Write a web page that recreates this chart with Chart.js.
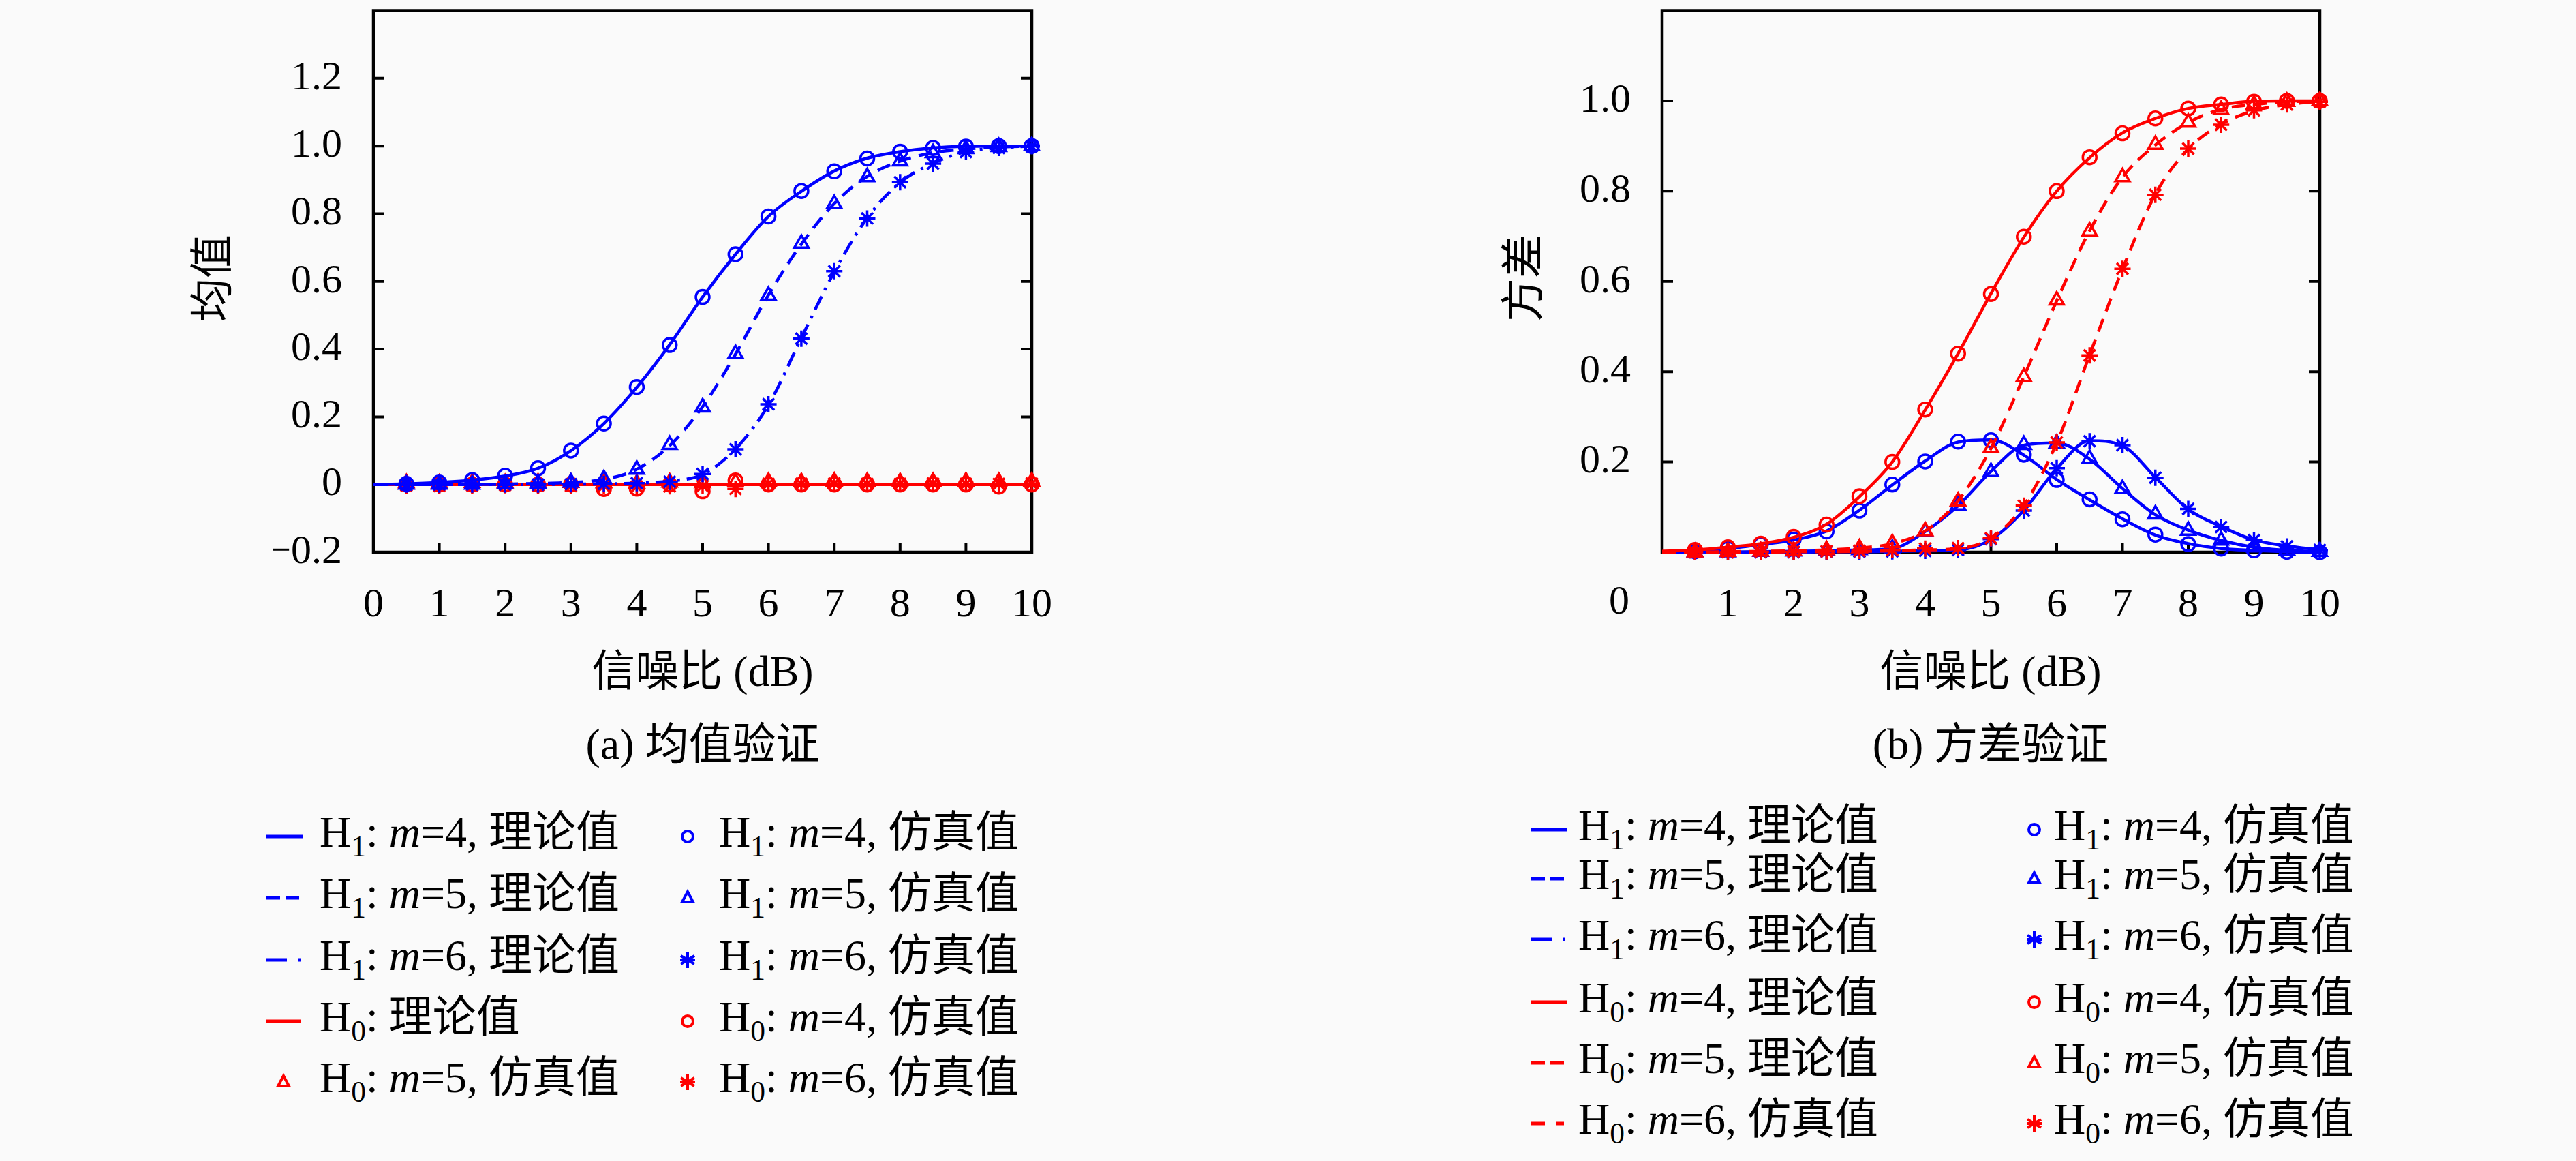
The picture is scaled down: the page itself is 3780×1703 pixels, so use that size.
<!DOCTYPE html>
<html>
<head>
<meta charset="utf-8">
<script src="https://cdn.jsdelivr.net/npm/chart.js@4.4.1/dist/chart.umd.min.js"></script>
<style>
  body { margin: 0; width: 3780px; height: 1703px; background: #fafafa; position: relative; overflow: hidden;
         font-family: "Liberation Serif", "Noto Sans CJK SC", serif; color: #000; }
  canvas { position: absolute; }
  .t { position: absolute; font-size: 64px; line-height: 64px; white-space: nowrap; }
  .c { transform: translateX(-50%); }
  .v { transform: translate(-50%, -50%) rotate(-90deg); }
  sub { font-size: 0.68em; vertical-align: -0.32em; line-height: 0; }
  svg { position: absolute; overflow: visible; }
</style>
</head>
<body>
<canvas id="meanChart" width="1160" height="940" style="left:400px;top:0"></canvas>
<canvas id="varChart" width="1160" height="940" style="left:2290px;top:0"></canvas>

<div class="t v" style="left:312px;top:408px">均值</div>
<div class="t c" style="left:1031px;top:953px">信噪比 (dB)</div>
<div class="t c" style="left:1031px;top:1060px">(a) 均值验证</div>

<div class="t v" style="left:2236px;top:408px">方差</div>
<div class="t c" style="left:2921px;top:953px">信噪比 (dB)</div>
<div class="t c" style="left:2921px;top:1060px">(b) 方差验证</div>
<div class="t c" style="left:2376px;top:850px;font-size:60px;line-height:60px">0</div>

<div id="legend"></div>

<script>
// x grid (信噪比, dB)
const snrTheory = [0, 0.5, 1, 1.5, 2, 2.5, 3, 3.5, 4, 4.5, 5, 5.5, 6, 6.5, 7, 7.5, 8, 8.5, 9, 9.5, 10];
const snrSim = [0.5, 1, 1.5, 2, 2.5, 3, 3.5, 4, 4.5, 5, 5.5, 6, 6.5, 7, 7.5, 8, 8.5, 9, 9.5, 10];

// tick labels
const snrTicks = [0, 1, 2, 3, 4, 5, 6, 7, 8, 9, 10];
const meanYTicks = [-0.2, 0, 0.2, 0.4, 0.6, 0.8, 1.0, 1.2];
const varYTicks = [0.2, 0.4, 0.6, 0.8, 1.0];

// (a) 均值
const meanH1m4Theory = [0, 0.002, 0.006, 0.013, 0.025, 0.048, 0.10, 0.18, 0.287, 0.413, 0.554, 0.68, 0.792, 0.866, 0.926, 0.964, 0.983, 0.994, 0.999, 1.0, 1.0];
const meanH1m5Theory = [0, 0, 0, 0, 0.001, 0.003, 0.006, 0.015, 0.045, 0.115, 0.23, 0.385, 0.56, 0.71, 0.83, 0.91, 0.955, 0.98, 0.991, 0.997, 1.0];
const meanH1m6Theory = [0, 0, 0, 0, 0, 0, 0.001, 0.002, 0.004, 0.01, 0.03, 0.105, 0.235, 0.433, 0.628, 0.787, 0.892, 0.949, 0.983, 0.994, 1.0];
const meanH0Theory = [0, 0, 0, 0, 0, 0, 0, 0, 0, 0, 0, 0, 0, 0, 0, 0, 0, 0, 0, 0, 0];
const meanH1m4Sim = [0.002, 0.006, 0.013, 0.026, 0.048, 0.10, 0.18, 0.288, 0.412, 0.554, 0.68, 0.792, 0.867, 0.925, 0.963, 0.983, 0.994, 0.998, 1.0, 1.0];
const meanH1m5Sim = [0, 0, 0, 0.001, 0.003, 0.006, 0.016, 0.044, 0.117, 0.228, 0.386, 0.558, 0.712, 0.829, 0.908, 0.955, 0.979, 0.991, 0.997, 1.0];
const meanH1m6Sim = [0, 0, 0, 0, 0, 0.001, 0.002, 0.004, 0.008, 0.031, 0.104, 0.237, 0.431, 0.63, 0.786, 0.893, 0.948, 0.982, 0.994, 0.999];
const meanH0m4Sim = [0, 0, 0, 0, 0, 0, -0.013, -0.012, 0, -0.02, 0.012, 0, 0, 0, 0, 0, 0, 0, -0.006, 0];
const meanH0m5Sim = [0.004, 0.003, 0.005, 0.004, 0.006, 0.005, 0.004, 0.003, 0.006, 0.004, 0.007, 0.008, 0.007, 0.009, 0.008, 0.007, 0.008, 0.009, 0.008, 0.009];
const meanH0m6Sim = [-0.003, -0.004, -0.003, -0.002, -0.003, -0.004, -0.004, -0.006, -0.005, -0.004, -0.013, 0.002, 0.002, 0.003, 0.002, 0.002, 0.003, 0.002, 0.002, 0.003];

// (b) 方差
const varH1m4Theory = [0, 0.002, 0.008, 0.017, 0.027, 0.047, 0.093, 0.149, 0.202, 0.244, 0.249, 0.215, 0.161, 0.116, 0.074, 0.038, 0.019, 0.008, 0.004, 0.001, 0];
const varH1m5Theory = [0, 0, 0, 0.001, 0.002, 0.003, 0.005, 0.008, 0.046, 0.103, 0.179, 0.237, 0.242, 0.206, 0.141, 0.083, 0.049, 0.026, 0.011, 0.004, 0.001];
const varH1m6Theory = [0, 0, 0, 0, 0, 0.001, 0.001, 0.002, 0.003, 0.005, 0.028, 0.093, 0.185, 0.247, 0.236, 0.166, 0.095, 0.057, 0.027, 0.014, 0.005];
const varH0m4Theory = [0.002, 0.005, 0.011, 0.019, 0.033, 0.062, 0.123, 0.2, 0.315, 0.44, 0.573, 0.698, 0.80, 0.874, 0.929, 0.961, 0.983, 0.992, 0.999, 1.0, 1.0];
const varH0m5Theory = [0, 0, 0.001, 0.002, 0.003, 0.005, 0.009, 0.019, 0.047, 0.114, 0.23, 0.389, 0.557, 0.712, 0.831, 0.902, 0.952, 0.981, 0.992, 0.998, 1.0];
const varH0m6Theory = [0, 0, 0, 0, 0.001, 0.001, 0.002, 0.003, 0.005, 0.008, 0.031, 0.104, 0.242, 0.437, 0.627, 0.793, 0.893, 0.948, 0.978, 0.992, 0.998];
const varH1m4Sim = [0.002, 0.008, 0.017, 0.028, 0.046, 0.092, 0.15, 0.201, 0.245, 0.248, 0.216, 0.16, 0.117, 0.073, 0.039, 0.018, 0.008, 0.004, 0.001, 0];
const varH1m5Sim = [0, 0, 0.001, 0.002, 0.003, 0.005, 0.008, 0.045, 0.104, 0.178, 0.238, 0.241, 0.207, 0.14, 0.084, 0.048, 0.026, 0.011, 0.004, 0.001];
const varH1m6Sim = [0, 0, 0, 0, 0.001, 0.001, 0.002, 0.003, 0.005, 0.029, 0.092, 0.186, 0.246, 0.237, 0.165, 0.096, 0.056, 0.027, 0.013, 0.005];
const varH0m4Sim = [0.005, 0.011, 0.019, 0.034, 0.061, 0.124, 0.2, 0.316, 0.44, 0.572, 0.699, 0.80, 0.875, 0.928, 0.961, 0.983, 0.992, 0.998, 1.0, 1.0];
const varH0m5Sim = [0, 0.001, 0.002, 0.003, 0.005, 0.009, 0.02, 0.047, 0.113, 0.231, 0.388, 0.558, 0.711, 0.831, 0.903, 0.952, 0.98, 0.992, 0.998, 1.0];
const varH0m6Sim = [0, 0, 0.001, 0.001, 0.002, 0.003, 0.005, 0.008, 0.009, 0.031, 0.103, 0.243, 0.436, 0.628, 0.792, 0.894, 0.947, 0.979, 0.992, 0.998];

const BLUE = '#0000ff';
const RED = '#ff0000';
const DASH = [20, 12];
const DASHDOT = [22, 10, 4, 10];

function pts(xs, ys) {
  return xs.map((x, i) => ({ x: x, y: ys[i] }));
}

function curve(ys, color, dash) {
  return {
    data: pts(snrTheory, ys), showLine: true, borderColor: color, borderWidth: 4.5,
    borderDash: dash || [], pointRadius: 0, cubicInterpolationMode: 'monotone', clip: false
  };
}

function marks(ys, color, style) {
  return {
    data: pts(snrSim, ys), showLine: false, pointStyle: style,
    pointRadius: style === 'circle' ? 10 : 12, pointBorderWidth: 3.5,
    borderColor: color, backgroundColor: 'rgba(0,0,0,0)', clip: false
  };
}

function has(list, v) {
  return list.some(t => Math.abs(t - v) < 1e-6);
}

function fmt(v) {
  if (Math.abs(v) < 1e-6) return '0';
  return (v < 0 ? '\u2212' : '') + Math.abs(v).toFixed(1);
}

// frame + inward tick marks
const framePlugin = {
  id: 'frame',
  beforeDatasetsDraw(chart, args, o) {
    const { ctx, chartArea: a, scales: { x, y } } = chart;
    ctx.save();
    ctx.strokeStyle = '#000';
    ctx.lineWidth = 4;
    ctx.beginPath();
    o.xTicks.forEach(v => {
      const px = x.getPixelForValue(v);
      ctx.moveTo(px, a.bottom);
      ctx.lineTo(px, a.bottom - 14);
    });
    o.yTicks.forEach(v => {
      const py = y.getPixelForValue(v);
      ctx.moveTo(a.left, py);
      ctx.lineTo(a.left + 16, py);
      ctx.moveTo(a.right, py);
      ctx.lineTo(a.right - 16, py);
    });
    ctx.stroke();
    ctx.lineWidth = 4.5;
    ctx.strokeRect(a.left, a.top, a.right - a.left, a.bottom - a.top);
    ctx.restore();
  }
};

const tickFont = { family: '"Liberation Serif", serif', size: 60 };

function makeOptions(yMin, yMax, yLabels, xLabels, yWidth, top) {
  return {
    responsive: false,
    animation: false,
    devicePixelRatio: 1,
    layout: { padding: { top: top, right: 46, left: 0, bottom: 0 } },
    plugins: {
      legend: { display: false },
      tooltip: { enabled: false },
      frame: { xTicks: snrTicks, yTicks: yLabels }
    },
    scales: {
      x: {
        type: 'linear', min: 0, max: 10,
        grid: { display: false, drawTicks: false },
        border: { display: false },
        afterFit: s => { s.height = 130; s.paddingLeft = 0; s.paddingRight = 0; },
        ticks: {
          stepSize: 1, padding: 42, color: '#000', font: tickFont, maxRotation: 0,
          callback: v => has(xLabels, v) ? String(v) : ''
        }
      },
      y: {
        type: 'linear', min: yMin, max: yMax,
        grid: { display: false, drawTicks: false },
        border: { display: false },
        afterFit: s => { s.width = yWidth; s.paddingTop = 0; s.paddingBottom = 0; },
        ticks: {
          stepSize: 0.2, padding: 46, color: '#000', font: tickFont,
          callback: v => has(yLabels, v) ? fmt(v) : ''
        }
      }
    }
  };
}

new Chart(document.getElementById('meanChart'), {
  type: 'scatter',
  data: {
    datasets: [
      curve(meanH1m4Theory, BLUE),
      curve(meanH1m5Theory, BLUE, DASH),
      curve(meanH1m6Theory, BLUE, DASHDOT),
      marks(meanH1m4Sim, BLUE, 'circle'),
      marks(meanH1m5Sim, BLUE, 'triangle'),
      marks(meanH1m6Sim, BLUE, 'star'),
      curve(meanH0Theory, RED),
      marks(meanH0m4Sim, RED, 'circle'),
      marks(meanH0m5Sim, RED, 'triangle'),
      marks(meanH0m6Sim, RED, 'star')
    ]
  },
  options: makeOptions(-0.2, 1.4, meanYTicks, snrTicks, 148, 8),
  plugins: [framePlugin]
});

new Chart(document.getElementById('varChart'), {
  type: 'scatter',
  data: {
    datasets: [
      curve(varH0m4Theory, RED),
      curve(varH0m5Theory, RED, DASH),
      curve(varH0m6Theory, RED, DASH),
      marks(varH0m4Sim, RED, 'circle'),
      marks(varH0m5Sim, RED, 'triangle'),
      marks(varH0m6Sim, RED, 'star'),
      curve(varH1m4Theory, BLUE),
      curve(varH1m5Theory, BLUE),
      curve(varH1m6Theory, BLUE),
      marks(varH1m4Sim, BLUE, 'circle'),
      marks(varH1m5Sim, BLUE, 'triangle'),
      marks(varH1m6Sim, BLUE, 'star')
    ]
  },
  options: makeOptions(0, 1.2, varYTicks, snrTicks.slice(1), 149, 6),
  plugins: [framePlugin]
});

// legends (HTML, for subscripts and italic m)
function sampleSvg(s, x, y) {
  if (s.kind === 'line') {
    const dash = s.dash ? s.dash.join(',') : 'none';
    return '<svg width="' + s.w + '" height="10" style="left:' + x + 'px;top:' + (y - 5) + 'px">' +
      '<line x1="0" y1="5" x2="' + s.w + '" y2="5" stroke="' + s.color + '" stroke-width="5" stroke-dasharray="' + dash + '"/></svg>';
  }
  let shape = '';
  if (s.shape === 'circle') shape = '<circle cx="0" cy="0" r="8" fill="none" stroke="' + s.color + '" stroke-width="4"/>';
  if (s.shape === 'triangle') shape = '<polygon points="0,-9 8,6 -8,6" fill="none" stroke="' + s.color + '" stroke-width="4"/>';
  if (s.shape === 'star') shape = '<path d="M0,-12V12M-10,-6L10,6M-10,6L10,-6M-11,0H11" stroke="' + s.color + '" stroke-width="4"/>';
  return '<svg width="1" height="1" style="left:' + x + 'px;top:' + y + 'px">' + shape + '</svg>';
}

function label(h, m, tail) {
  return 'H<sub>' + h + '</sub>: ' + (m ? '<i>m</i>=' + m + ', ' : '') + tail;
}

const legendItems = [
  // (a)
  [391, 469, 1221, { kind: 'line', color: BLUE, w: 54 }, label(1, 4, '理论值')],
  [391, 469, 1311, { kind: 'line', color: BLUE, w: 54, dash: [20, 8] }, label(1, 5, '理论值')],
  [391, 469, 1402, { kind: 'line', color: BLUE, w: 54, dash: [30, 16, 4, 50] }, label(1, 6, '理论值')],
  [391, 469, 1492, { kind: 'line', color: RED, w: 50 }, label(0, 0, '理论值')],
  [416, 469, 1581, { kind: 'mark', color: RED, shape: 'triangle' }, label(0, 5, '仿真值')],
  [1009, 1055, 1221, { kind: 'mark', color: BLUE, shape: 'circle' }, label(1, 4, '仿真值')],
  [1009, 1055, 1311, { kind: 'mark', color: BLUE, shape: 'triangle' }, label(1, 5, '仿真值')],
  [1009, 1055, 1402, { kind: 'mark', color: BLUE, shape: 'star' }, label(1, 6, '仿真值')],
  [1009, 1055, 1492, { kind: 'mark', color: RED, shape: 'circle' }, label(0, 4, '仿真值')],
  [1009, 1055, 1581, { kind: 'mark', color: RED, shape: 'star' }, label(0, 6, '仿真值')],
  // (b)
  [2247, 2316, 1211, { kind: 'line', color: BLUE, w: 52 }, label(1, 4, '理论值')],
  [2247, 2316, 1283, { kind: 'line', color: BLUE, w: 52, dash: [20, 8] }, label(1, 5, '理论值')],
  [2247, 2316, 1372, { kind: 'line', color: BLUE, w: 52, dash: [30, 16, 4, 50] }, label(1, 6, '理论值')],
  [2247, 2316, 1464, { kind: 'line', color: RED, w: 52 }, label(0, 4, '理论值')],
  [2247, 2316, 1553, { kind: 'line', color: RED, w: 52, dash: [20, 8] }, label(0, 5, '理论值')],
  [2247, 2316, 1642, { kind: 'line', color: RED, w: 54, dash: [20, 16, 12, 60] }, label(0, 6, '仿真值')],
  [2985, 3014, 1211, { kind: 'mark', color: BLUE, shape: 'circle' }, label(1, 4, '仿真值')],
  [2985, 3014, 1283, { kind: 'mark', color: BLUE, shape: 'triangle' }, label(1, 5, '仿真值')],
  [2985, 3014, 1372, { kind: 'mark', color: BLUE, shape: 'star' }, label(1, 6, '仿真值')],
  [2985, 3014, 1464, { kind: 'mark', color: RED, shape: 'circle' }, label(0, 4, '仿真值')],
  [2985, 3014, 1553, { kind: 'mark', color: RED, shape: 'triangle' }, label(0, 5, '仿真值')],
  [2985, 3014, 1642, { kind: 'mark', color: RED, shape: 'star' }, label(0, 6, '仿真值')]
];

let html = '';
legendItems.forEach(([sx, tx, cy, sample, text]) => {
  html += sampleSvg(sample, sx, cy + 6);
  html += '<div class="t" style="left:' + tx + 'px;top:' + (cy - 32) + 'px">' + text + '</div>';
});
document.getElementById('legend').innerHTML = html;
</script>
</body>
</html>
